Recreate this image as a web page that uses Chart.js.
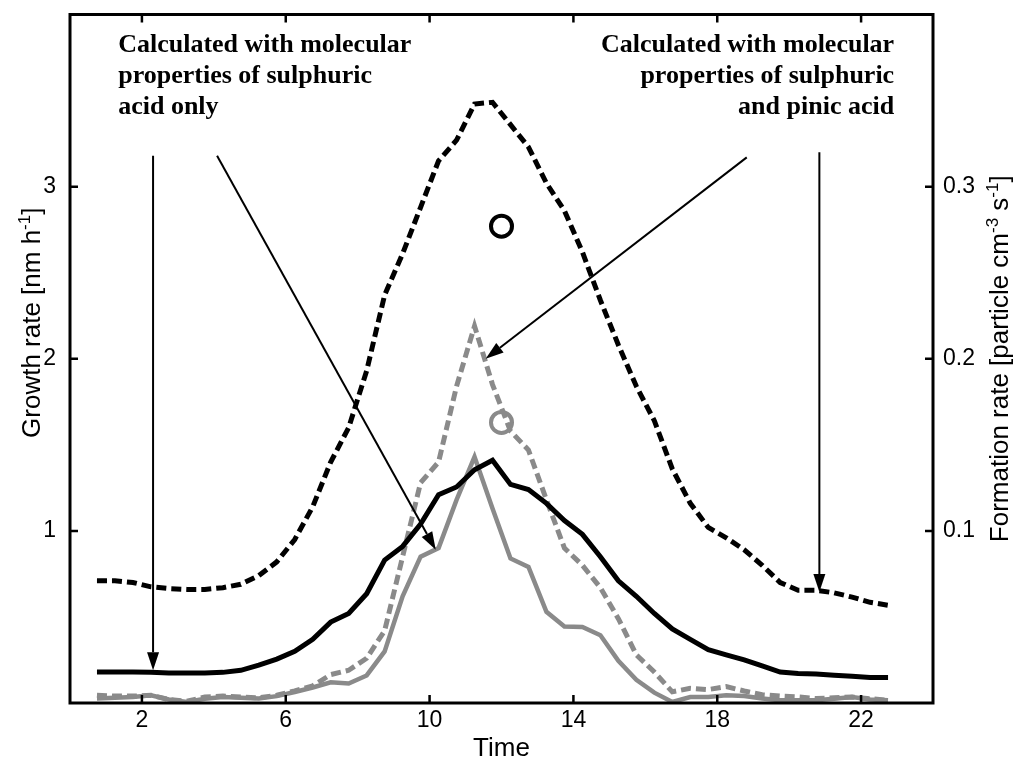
<!DOCTYPE html>
<html>
<head>
<meta charset="utf-8">
<script src="https://cdn.jsdelivr.net/npm/chart.js@4.4.1/dist/chart.umd.min.js"></script>
<style>
  html, body { margin: 0; padding: 0; background: #fff; }
  #chart { display: block; }
</style>
</head>
<body>
<canvas id="chart" width="1015" height="765"></canvas>
<script>
// Time of day [h]
const time = [0.75, 1.25, 1.75, 2.25, 2.75, 3.25, 3.75, 4.25, 4.75, 5.25, 5.75, 6.25, 6.75, 7.25, 7.75,
    8.25, 8.75, 9.25, 9.75, 10.25, 10.75, 11.25, 11.75, 12.25, 12.75, 13.25, 13.75, 14.25, 14.75, 15.25,
    15.75, 16.25, 16.75, 17.25, 17.75, 18.25, 18.75, 19.25, 19.75, 20.25, 20.75, 21.25, 21.75, 22.25, 22.75];

// Growth rate [nm h-1] (black, left axis)
const growthSulphuric = [0.18, 0.18, 0.18, 0.178, 0.175, 0.174, 0.174, 0.178, 0.19, 0.22, 0.255, 0.30, 0.37, 0.47, 0.52,
    0.635, 0.83, 0.91, 1.04, 1.21, 1.255, 1.355, 1.41, 1.27, 1.24, 1.16, 1.06, 0.98, 0.85, 0.71,
    0.62, 0.52, 0.43, 0.37, 0.31, 0.28, 0.25, 0.215, 0.18, 0.172, 0.168, 0.161, 0.155, 0.148, 0.148];
const growthPinic = [0.71, 0.71, 0.70, 0.675, 0.665, 0.66, 0.66, 0.67, 0.69, 0.74, 0.82, 0.95, 1.14, 1.40, 1.60,
    1.93, 2.37, 2.61, 2.88, 3.15, 3.27, 3.48, 3.49, 3.36, 3.23, 3.02, 2.86, 2.62, 2.34, 2.08,
    1.84, 1.64, 1.36, 1.16, 1.02, 0.96, 0.89, 0.80, 0.70, 0.655, 0.655, 0.64, 0.615, 0.585, 0.568];

// Formation rate [particle cm-3 s-1] (grey, right axis)
const formationSulphuric = [0.0026, 0.003, 0.0035, 0.0045, 0.002, 0.0006, 0.0025, 0.0035, 0.003, 0.0026, 0.004, 0.0064, 0.009, 0.012, 0.0113,
    0.016, 0.030, 0.062, 0.085, 0.090, 0.118, 0.143, 0.113, 0.084, 0.079, 0.053, 0.0445, 0.0442, 0.0394, 0.0245,
    0.0135, 0.006, 0.0006, 0.0035, 0.0035, 0.0045, 0.004, 0.0026, 0.0016, 0.0016, 0.0016, 0.0025, 0.0035, 0.002, 0.0016];
const formationPinic = [0.0045, 0.004, 0.004, 0.0045, 0.002, 0.001, 0.0035, 0.004, 0.0035, 0.003, 0.0045, 0.007, 0.010, 0.0165, 0.019,
    0.026, 0.042, 0.085, 0.128, 0.140, 0.184, 0.219, 0.185, 0.158, 0.147, 0.118, 0.090, 0.080, 0.067, 0.049,
    0.028, 0.018, 0.0065, 0.0085, 0.0078, 0.0095, 0.007, 0.0048, 0.004, 0.0035, 0.0026, 0.003, 0.0035, 0.0025, 0.0016];

// Measured values (circles)
const measuredGrowth = [{ x: 12, y: 2.77 }];
const measuredFormation = [{ x: 12, y: 0.163 }];

// Tick values
const timeTicks = [2, 6, 10, 14, 18, 22];
const growthTicks = [1, 2, 3];
const formationTicks = [0.1, 0.2, 0.3];

// Notes and arrows, in time / growth rate units: [x0, y0, x1, y1]
const noteLeft = ['Calculated with molecular', 'properties of sulphuric', 'acid only'];
const noteRight = ['Calculated with molecular', 'properties of sulphuric', 'and pinic acid'];
const noteLeftAt = [1.34, 3.78];
const noteRightAt = [22.92, 3.78];
const arrows = [
    [2.31, 3.18, 2.31, 0.19],
    [4.09, 3.18, 10.17, 0.89],
    [18.82, 3.17, 11.56, 2.0],
    [20.84, 3.2, 20.84, 0.645]
];

const SANS = '"Liberation Sans", Arial, sans-serif';
const SERIF = '"Liberation Serif", "Times New Roman", serif';
const GREY = '#8a8a8a';

Chart.defaults.font.family = SANS;
Chart.defaults.color = '#000';

const xy = arr => time.map((t, i) => ({ x: t, y: arr[i] }));

function drawArrow(ctx, x0, y0, x1, y1) {
    const ang = Math.atan2(y1 - y0, x1 - x0);
    const len = 18, half = 6;
    const bx = x1 - len * Math.cos(ang), by = y1 - len * Math.sin(ang);
    ctx.beginPath();
    ctx.moveTo(x0, y0);
    ctx.lineTo(bx, by);
    ctx.stroke();
    ctx.beginPath();
    ctx.moveTo(x1, y1);
    ctx.lineTo(bx + half * Math.sin(ang), by - half * Math.cos(ang));
    ctx.lineTo(bx - half * Math.sin(ang), by + half * Math.cos(ang));
    ctx.closePath();
    ctx.fill();
}

// rotated axis title with superscripts, parts = [[text, isSup], ...]
function drawTitle(ctx, parts, cx, cy) {
    const big = '26px ' + SANS, small = '17px ' + SANS;
    ctx.save();
    ctx.translate(cx, cy);
    ctx.rotate(-Math.PI / 2);
    ctx.textAlign = 'left';
    ctx.textBaseline = 'alphabetic';
    let w = 0;
    parts.forEach(([t, sup]) => { ctx.font = sup ? small : big; w += ctx.measureText(t).width; });
    let px = -w / 2;
    parts.forEach(([t, sup]) => {
        ctx.font = sup ? small : big;
        ctx.fillText(t, px, sup ? -1 : 9);
        px += ctx.measureText(t).width;
    });
    ctx.restore();
}

// fixed axis sizes so the plot box lands where the original one is
const fixWidth = w => s => { s.width = w; s.paddingTop = 0; s.paddingBottom = 0; };

const decorations = {
    id: 'decorations',
    afterDatasetsDraw(chart) {
        const { ctx, chartArea: a, scales: { x, y, y1 } } = chart;
        ctx.save();
        ctx.strokeStyle = '#000';
        ctx.fillStyle = '#000';

        // inward tick marks
        ctx.lineWidth = 2.5;
        ctx.beginPath();
        timeTicks.forEach(v => {
            const px = x.getPixelForValue(v);
            ctx.moveTo(px, a.bottom); ctx.lineTo(px, a.bottom - 8);
            ctx.moveTo(px, a.top); ctx.lineTo(px, a.top + 8);
        });
        growthTicks.forEach(v => {
            const py = y.getPixelForValue(v);
            ctx.moveTo(a.left, py); ctx.lineTo(a.left + 8, py);
        });
        formationTicks.forEach(v => {
            const py = y1.getPixelForValue(v);
            ctx.moveTo(a.right, py); ctx.lineTo(a.right - 8, py);
        });
        ctx.stroke();

        // axes box
        ctx.lineWidth = 3;
        ctx.strokeRect(a.left, a.top, a.right - a.left, a.bottom - a.top);

        // arrows
        ctx.lineWidth = 2;
        arrows.forEach(([ax0, ay0, ax1, ay1]) => {
            drawArrow(ctx, x.getPixelForValue(ax0), y.getPixelForValue(ay0),
                x.getPixelForValue(ax1), y.getPixelForValue(ay1));
        });

        // notes
        ctx.font = 'bold 26px ' + SERIF;
        ctx.textBaseline = 'alphabetic';
        ctx.textAlign = 'left';
        let nx = x.getPixelForValue(noteLeftAt[0]), ny = y.getPixelForValue(noteLeftAt[1]);
        noteLeft.forEach((t, i) => ctx.fillText(t, nx, ny + i * 31));
        ctx.textAlign = 'right';
        nx = x.getPixelForValue(noteRightAt[0]);
        ny = y.getPixelForValue(noteRightAt[1]);
        noteRight.forEach((t, i) => ctx.fillText(t, nx, ny + i * 31));

        // axis titles
        const midY = (a.top + a.bottom) / 2;
        drawTitle(ctx, [['Growth rate [nm h', false], ['-1', true], [']', false]], 31, midY - 36);
        drawTitle(ctx, [['Formation rate [particle cm', false], ['-3', true], [' s', false], ['-1', true], [']', false]], 999, midY);
        ctx.restore();
    }
};

new Chart(document.getElementById('chart'), {
    type: 'line',
    data: {
        datasets: [
            {
                label: 'Measured growth rate', data: measuredGrowth, yAxisID: 'y', showLine: false,
                pointRadius: 10.5, pointBorderWidth: 4, pointBorderColor: '#000', pointBackgroundColor: 'rgba(0,0,0,0)'
            },
            {
                label: 'Measured formation rate', data: measuredFormation, yAxisID: 'y1', showLine: false,
                pointRadius: 10.5, pointBorderWidth: 4, pointBorderColor: GREY, pointBackgroundColor: 'rgba(0,0,0,0)'
            },
            { label: 'Growth rate, sulphuric acid only', data: xy(growthSulphuric), yAxisID: 'y', borderColor: '#000', borderWidth: 5 },
            { label: 'Growth rate, sulphuric and pinic acid', data: xy(growthPinic), yAxisID: 'y', borderColor: '#000', borderWidth: 5, borderDash: [10, 5] },
            { label: 'Formation rate, sulphuric and pinic acid', data: xy(formationPinic), yAxisID: 'y1', borderColor: GREY, borderWidth: 5, borderDash: [10, 5] },
            { label: 'Formation rate, sulphuric acid only', data: xy(formationSulphuric), yAxisID: 'y1', borderColor: GREY, borderWidth: 4.5 }
        ]
    },
    options: {
        responsive: false,
        animation: false,
        devicePixelRatio: 1,
        layout: { padding: { top: 14, left: 0, right: 0, bottom: 0 } },
        elements: { point: { radius: 0, hoverRadius: 0 }, line: { tension: 0, borderCapStyle: 'butt' } },
        plugins: { legend: { display: false }, tooltip: { enabled: false } },
        scales: {
            x: {
                type: 'linear', min: 0, max: 24,
                grid: { display: false, drawTicks: false },
                border: { display: false },
                afterBuildTicks: s => { s.ticks = timeTicks.map(v => ({ value: v })); },
                afterFit: s => { s.height = 62; s.paddingLeft = 0; s.paddingRight = 0; },
                ticks: { font: { size: 23 }, padding: 4, maxRotation: 0 },
                title: { display: true, text: 'Time', font: { size: 26 }, padding: { top: 0, bottom: 1 } }
            },
            y: {
                position: 'left', min: 0, max: 4,
                grid: { display: false, drawTicks: false },
                border: { display: false },
                afterBuildTicks: s => { s.ticks = growthTicks.map(v => ({ value: v })); },
                afterFit: fixWidth(70),
                ticks: { font: { size: 23 }, padding: 14 }
            },
            y1: {
                position: 'right', min: 0, max: 0.4,
                grid: { display: false, drawTicks: false },
                border: { display: false },
                afterBuildTicks: s => { s.ticks = formationTicks.map(v => ({ value: v })); },
                afterFit: fixWidth(82),
                ticks: { font: { size: 23 }, padding: 10 }
            }
        }
    },
    plugins: [decorations]
});
</script>
</body>
</html>
